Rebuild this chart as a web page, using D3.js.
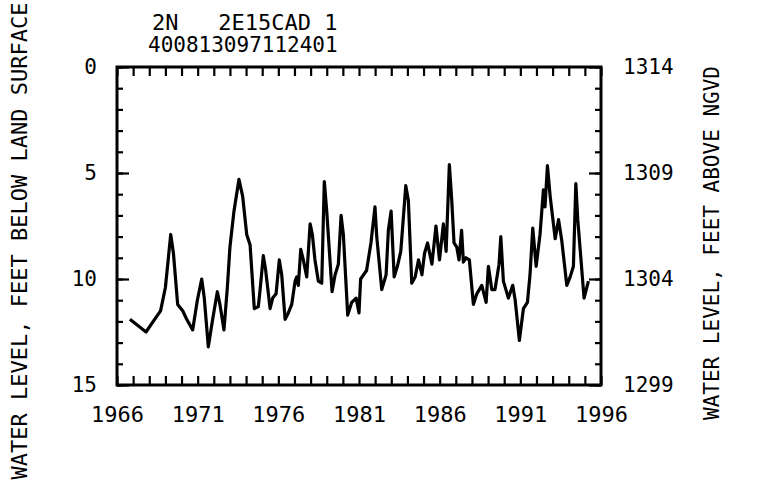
<!DOCTYPE html>
<meta charset="utf-8">
<script src="https://d3js.org/d3.v7.min.js"></script>
<style>
  body { margin: 0; background: #fff; }
  text { font-family: "DejaVu Sans Mono", monospace; fill: #000; }
</style>
<div id="chart"></div>
<script>

// decimal year of each reading
var years = [1966.8, 1967.8, 1968.15, 1968.7, 1969.0, 1969.33, 1969.5, 1969.76, 1970.07, 1970.32,
  1970.69, 1970.98, 1971.25, 1971.41, 1971.66, 1971.93, 1972.22, 1972.38, 1972.63, 1972.84,
  1973.0, 1973.25, 1973.56, 1973.79, 1974.04, 1974.25, 1974.51, 1974.76, 1974.87, 1975.07,
  1975.2, 1975.49, 1975.65, 1975.86, 1976.06, 1976.21, 1976.42, 1976.62, 1976.83, 1977.04,
  1977.14, 1977.24, 1977.39, 1977.55, 1977.76, 1977.97, 1978.11, 1978.27, 1978.48, 1978.69,
  1978.85, 1979.0, 1979.33, 1979.52, 1979.72, 1979.89, 1980.03, 1980.3, 1980.55, 1980.82,
  1981.0, 1981.1, 1981.47, 1981.74, 1981.99, 1982.1, 1982.41, 1982.68, 1982.82, 1982.99,
  1983.18, 1983.38, 1983.59, 1983.9, 1984.06, 1984.27, 1984.48, 1984.69, 1984.9, 1985.06,
  1985.25, 1985.52, 1985.77, 1985.99, 1986.23, 1986.4, 1986.6, 1986.75, 1986.89, 1987.06,
  1987.2, 1987.36, 1987.47, 1987.63, 1987.84, 1988.09, 1988.3, 1988.61, 1988.88, 1989.02,
  1989.23, 1989.43, 1989.68, 1989.79, 1989.95, 1990.26, 1990.53, 1990.68, 1990.94, 1991.19,
  1991.44, 1991.6, 1991.77, 1991.98, 1992.22, 1992.43, 1992.53, 1992.68, 1992.85, 1993.16,
  1993.37, 1993.57, 1993.88, 1994.09, 1994.29, 1994.44, 1994.56, 1994.95, 1995.22];

// water level, feet below land surface
var depths = [11.9, 12.5, 12.1, 11.5, 10.4, 7.9, 8.8, 11.2, 11.5, 11.9,
  12.4, 11.0, 10.0, 10.9, 13.2, 11.9, 10.6, 11.2, 12.4, 10.4,
  8.5, 6.8, 5.3, 6.1, 7.9, 8.4, 11.4, 11.3, 10.5, 8.9,
  9.5, 11.4, 10.9, 10.7, 9.1, 9.8, 11.9, 11.6, 11.2, 10.1,
  9.9, 10.3, 8.6, 9.1, 9.9, 7.4, 7.9, 9.1, 10.1, 10.2,
  5.4, 6.8, 10.6, 9.8, 9.3, 7.0, 7.9, 11.7, 11.1, 10.9,
  11.6, 10.0, 9.6, 8.3, 6.6, 8.0, 10.5, 9.8, 7.7, 6.8,
  9.9, 9.4, 8.7, 5.6, 6.3, 10.2, 9.9, 9.1, 9.8, 8.8,
  8.3, 9.3, 7.5, 9.1, 7.4, 8.7, 4.6, 6.3, 8.3, 8.5,
  9.1, 7.7, 9.2, 9.0, 9.1, 11.2, 10.7, 10.3, 11.1, 9.4,
  10.5, 10.5, 9.3, 8.0, 10.1, 10.9, 10.3, 11.0, 12.9, 11.4,
  11.1, 9.8, 7.6, 9.4, 7.9, 5.8, 6.6, 4.65, 6.1, 8.1,
  7.2, 8.2, 10.3, 9.9, 9.4, 5.5, 7.2, 10.9, 10.1];

var xLabelYears = [1966, 1971, 1976, 1981, 1986, 1991, 1996];
var leftLabels = [0, 5, 10, 15];
var rightLabels = [1314, 1309, 1304, 1299];
var titleLines = ["2N   2E15CAD 1", "400813097112401"];

var W = 762, H = 487;
var plotL = 117, plotR = 601, plotT = 67, plotB = 385;

var svg = d3.select("#chart").append("svg")
  .attr("width", W).attr("height", H);

var x = d3.scaleLinear().domain([1966, 1996]).range([plotL, plotR]);
var y = d3.scaleLinear().domain([0, 15]).range([plotT, plotB]);
var yR = d3.scaleLinear().domain([1314, 1299]).range([plotT, plotB]);

var data = years.map(function(d, i) { return {t: d, v: depths[i]}; });

// x ticks every year, labels every 5
var yearTicks = d3.range(1966, 1997);
var fmtYear = function(d) { return xLabelYears.indexOf(d) >= 0 ? d : ""; };

var gb = svg.append("g").attr("transform", "translate(0," + plotB + ")")
  .call(d3.axisBottom(x).tickValues(yearTicks).tickFormat(fmtYear)
    .tickSizeInner(-9).tickSizeOuter(0).tickPadding(21));
var gt = svg.append("g").attr("transform", "translate(0," + plotT + ")")
  .call(d3.axisTop(x).tickValues(yearTicks).tickFormat("")
    .tickSizeInner(-9).tickSizeOuter(0));

// left: minor ticks each foot, major every 5
var gl = svg.append("g").attr("transform", "translate(" + plotL + ",0)")
  .call(d3.axisLeft(y).tickValues(d3.range(0, 16)).tickFormat("")
    .tickSizeInner(-6).tickSizeOuter(0));
var glm = svg.append("g").attr("transform", "translate(" + plotL + ",0)")
  .call(d3.axisLeft(y).tickValues(leftLabels).tickFormat(d3.format("d"))
    .tickSizeInner(-12).tickSizeOuter(0).tickPadding(20));

var gr = svg.append("g").attr("transform", "translate(" + plotR + ",0)")
  .call(d3.axisRight(yR).tickValues(d3.range(1299, 1315)).tickFormat("")
    .tickSizeInner(-6).tickSizeOuter(0));
var grm = svg.append("g").attr("transform", "translate(" + plotR + ",0)")
  .call(d3.axisRight(yR).tickValues(rightLabels).tickFormat(d3.format("d"))
    .tickSizeInner(-12).tickSizeOuter(0).tickPadding(22));

[gb, gt, gl, glm, gr, grm].forEach(function(g) {
  g.select(".domain").remove();
  g.selectAll(".tick line").attr("stroke", "#000").attr("stroke-width", 2.2);
  g.selectAll(".tick text").style("font-family", "DejaVu Sans Mono");
});
gb.selectAll(".tick text").style("font-size", "22px");
glm.selectAll(".tick text").style("font-size", "21px");
grm.selectAll(".tick text").style("font-size", "21px");

// frame
svg.append("rect")
  .attr("x", plotL).attr("y", plotT)
  .attr("width", plotR - plotL).attr("height", plotB - plotT)
  .attr("fill", "none").attr("stroke", "#000").attr("stroke-width", 3);

// hydrograph
svg.append("path")
  .datum(data)
  .attr("fill", "none")
  .attr("stroke", "#000")
  .attr("stroke-width", 3.2)
  .attr("stroke-linejoin", "round")
  .attr("d", d3.line()
    .x(function(d) { return x(d.t); })
    .y(function(d) { return y(d.v); }));

// site id above the plot
svg.selectAll(".title").data(titleLines).enter().append("text")
  .attr("class", "title")
  .attr("x", function(d, i) { return i == 0 ? 152 : 148; })
  .attr("y", function(d, i) { return 30 + i * 22; })
  .style("font-size", function(d, i) { return i == 0 ? "22px" : "21px"; })
  .style("white-space", "pre")
  .text(function(d) { return d; });

// axis titles
svg.append("text")
  .attr("transform", "translate(27,241) rotate(-90)")
  .attr("text-anchor", "middle")
  .style("font-size", "22px")
  .text("WATER LEVEL, FEET BELOW LAND SURFACE");

svg.append("text")
  .attr("transform", "translate(719,243) rotate(-90)")
  .attr("text-anchor", "middle")
  .style("font-size", "21px")
  .text("WATER LEVEL, FEET ABOVE NGVD");

</script>
